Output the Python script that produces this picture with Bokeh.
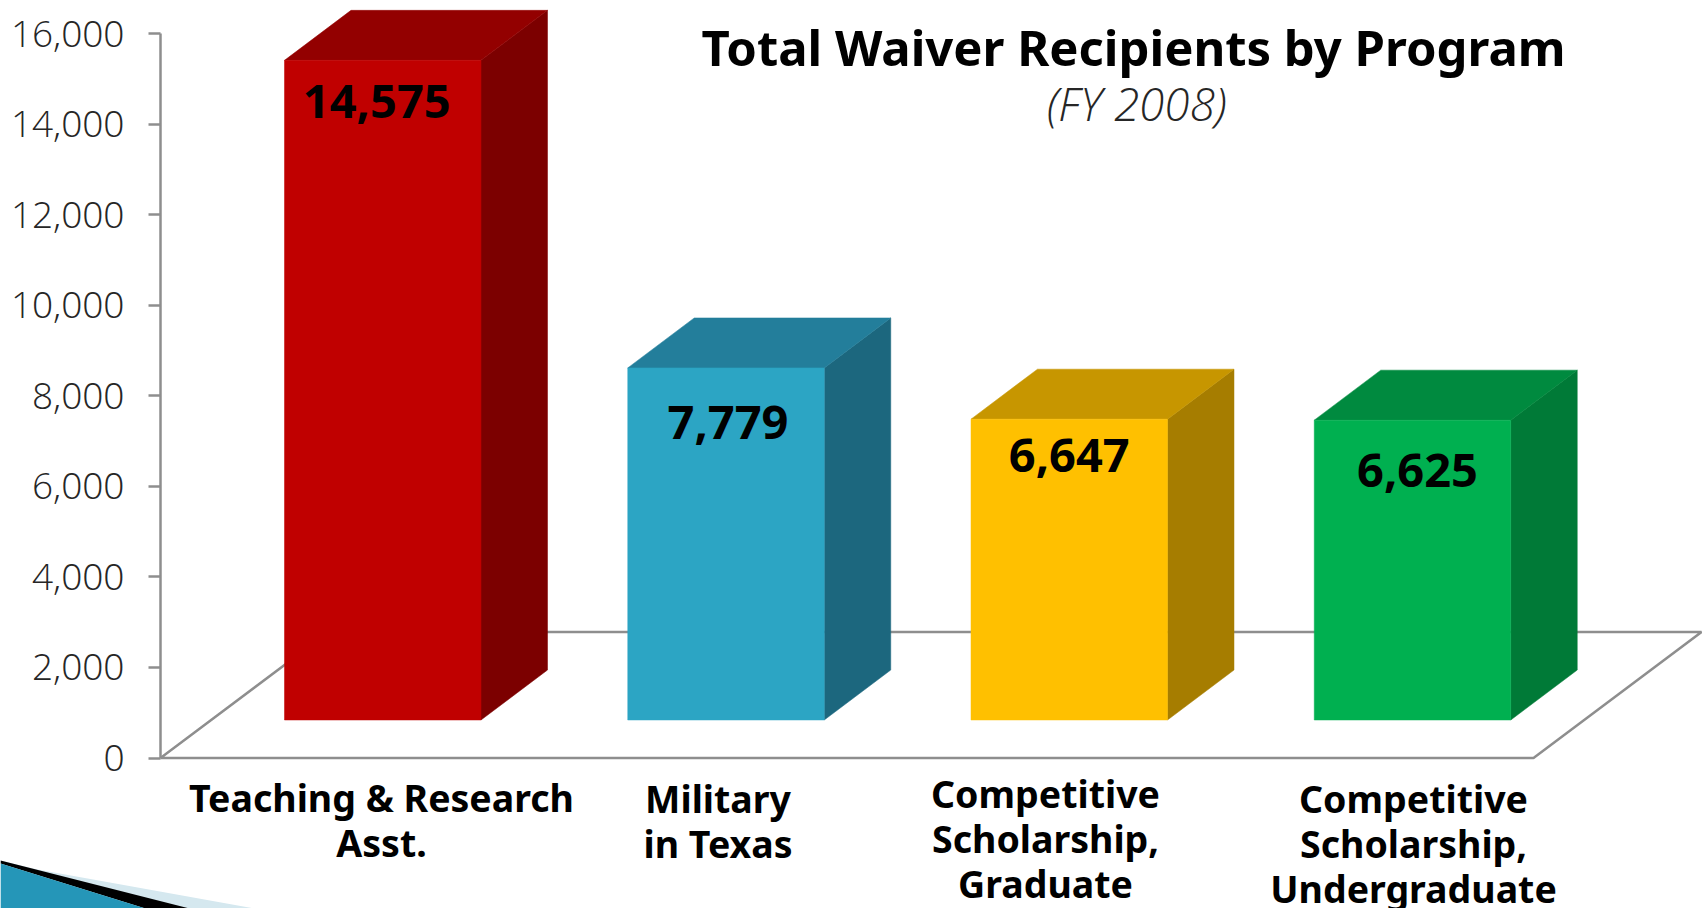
from bokeh.plotting import figure
from bokeh.models import Range1d, FixedTicker, NumeralTickFormatter
from bokeh.core.properties import value
from bokeh.embed import file_html
from bokeh.resources import INLINE

# ---- data ----
categories = ["Teaching & Research\nAsst.", "Military\nin Texas",
              "Competitive\nScholarship,\nGraduate", "Competitive\nScholarship,\nUndergraduate"]
recipients = [14575, 7779, 6647, 6625]
value_labels = ["14,575", "7,779", "6,647", "6,625"]
y_ticks = [0, 2000, 4000, 6000, 8000, 10000, 12000, 14000, 16000]
title_text = "Total Waiver Recipients by Program"
subtitle_text = "(FY 2008)"

front_colors = ["#C00000", "#2CA5C4", "#FFC000", "#00B050"]
side_colors = ["#7C0000", "#1C677E", "#A67D00", "#007A37"]
top_colors = ["#930000", "#237E9B", "#C79600", "#008A3F"]

# ---- layout (page pixel <-> data) ----
PX_PER_CAT = 343.25
PX_PER_VAL = 0.04526
AXIS_X, ZERO_Y = 160.0, 757.5


def ux(px):
    return (px - AXIS_X) / PX_PER_CAT


def uy(py):
    return (ZERO_Y - py) / PX_PER_VAL


p = figure(width=1702, height=908, output_backend="svg", toolbar_location=None,
           x_range=Range1d(ux(0), ux(1702)), y_range=Range1d(uy(908), uy(0)),
           x_axis_location=None, min_border=0, background_fill_color="white",
           border_fill_color="white", outline_line_color=None)
p.grid.visible = False

GREY = "#8E8E8E"
ax = p.yaxis[0]
ax.fixed_location = 0
ax.bounds = (0, 16000)
ax.ticker = FixedTicker(ticks=y_ticks)
ax.formatter = NumeralTickFormatter(format="0,0")
ax.axis_line_color = GREY
ax.axis_line_width = 2.5
ax.major_tick_line_color = GREY
ax.major_tick_line_width = 2.5
ax.major_tick_in = 0
ax.major_tick_out = 12
ax.minor_tick_line_color = None
ax.major_label_standoff = 24
ax.major_label_text_font = "Open Sans Light"
ax.major_label_text_font_size = "37px"
ax.major_label_text_color = "#262626"

# floor
FLOOR_DX, FLOOR_DY = 168 / PX_PER_CAT, 126 / PX_PER_VAL
n = len(categories)
p.line([0, n, n + FLOOR_DX, FLOOR_DX, 0], [0, 0, FLOOR_DY, FLOOR_DY, 0], line_color=GREY, line_width=2.5)

# bars
BASE = 38 / PX_PER_VAL
BAR_W = 196.5 / PX_PER_CAT
BAR_X0 = ux(284)
DX, DY = 66.5 / PX_PER_CAT, 50 / PX_PER_VAL
lefts = [i + BAR_X0 for i in range(n)]
rights = [l + BAR_W for l in lefts]
tops = [BASE + v for v in recipients]

p.patches([[r, r + DX, r + DX, r] for r in rights],
          [[BASE, BASE + DY, t + DY, t] for t in tops],
          fill_color=side_colors, line_color=side_colors, line_width=0.5)
p.patches([[l, l + DX, r + DX, r] for l, r in zip(lefts, rights)],
          [[t, t + DY, t + DY, t] for t in tops],
          fill_color=top_colors, line_color=top_colors, line_width=0.5)
p.quad(left=lefts, right=rights, bottom=BASE, top=tops, fill_color=front_colors, line_color=front_colors, line_width=0.5)

# value labels
BOLD = value("Noto Sans")
p.text(x=[l + BAR_W / 2 for l in lefts], y=tops, text=value_labels,
       x_offset=[-6, 2, 0, 5], y_offset=[41, 55, 36, 50],
       text_font=BOLD, text_font_style="bold", text_font_size="47px",
       text_color="black", text_align="center", text_baseline="middle")

# category labels
centers_px = [381, 717.5, 1045, 1413]
first_line_px = [797, 798, 793, 798]
LINE_GAP = 44.8
for c, cx, fy in zip(categories, centers_px, first_line_px):
    for j, line in enumerate(c.split("\n")):
        p.text(x=[ux(cx)], y=[uy(fy + j * LINE_GAP)], text=[line], text_font=BOLD, text_font_style="bold",
               text_font_size="37.5px", text_color="black", text_align="center", text_baseline="middle")

# titles
p.text(x=[ux(1133)], y=[uy(46)], text=[title_text], text_font=BOLD, text_font_style="bold",
       text_font_size="49px", text_color="black", text_align="center", text_baseline="middle")
p.text(x=[ux(1136)], y=[uy(102)], text=[subtitle_text], text_font=value("Open Sans Light"), text_font_style="italic",
       text_font_size="46px", text_color="#262626", text_align="center", text_baseline="middle")

# slide corner decoration
p.patch([ux(x) for x in (37, 254, 0, 0)], [uy(y) for y in (869, 908, 908, 860)], fill_color="#D5E8EF", line_color=None)
p.patch([ux(x) for x in (0, 189, 145, 0)], [uy(y) for y in (860, 908, 908, 863)], fill_color="#000000", line_color=None)
p.patch([ux(x) for x in (0, 145, 0)], [uy(y) for y in (863, 908, 908)], fill_color="#2596B8", line_color=None)

open("out.html", "w").write(file_html(p, INLINE))
